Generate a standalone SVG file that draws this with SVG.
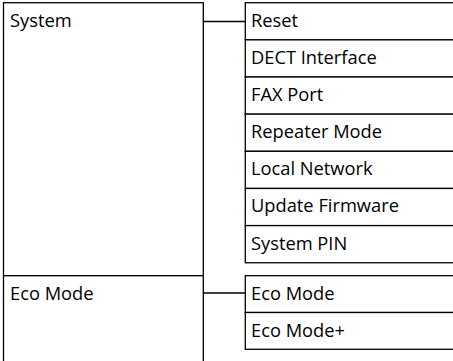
<svg xmlns="http://www.w3.org/2000/svg" width="453" height="361" viewBox="0 0 453 361">
<style>
.b{fill:#fff;stroke:#000;stroke-width:1.3}
.c{fill:none;stroke:#000;stroke-width:1.3}
text{font-family:"Open Sans","Noto Sans",sans-serif;font-size:18.3px;fill:#000}
</style>
<rect width="453" height="361" fill="#fff"/>
<g id="system">
<rect class="b" x="3.5" y="2.7" width="199.8" height="273"/>
<text x="10" y="27.3">System</text>
</g>
<g id="ecomode-group">
<rect class="b" x="3.5" y="275.7" width="199.8" height="100"/>
<text x="10" y="300">Eco Mode</text>
</g>
<g id="reset"><rect class="b" x="245.3" y="2.7" width="220" height="37.15"/><text x="251" y="26.7">Reset</text></g>
<g id="dect"><rect class="b" x="245.3" y="39.85" width="220" height="37.15"/><text x="251" y="63.85">DECT Interface</text></g>
<g id="fax"><rect class="b" x="245.3" y="77" width="220" height="37.15"/><text x="251" y="101">FAX Port</text></g>
<g id="repeater"><rect class="b" x="245.3" y="114.15" width="220" height="37.15"/><text x="251" y="138.15">Repeater Mode</text></g>
<g id="local"><rect class="b" x="245.3" y="151.3" width="220" height="37.15"/><text x="251" y="175.3">Local Network</text></g>
<g id="update"><rect class="b" x="245.3" y="188.45" width="220" height="37.15"/><text x="251" y="212.45">Update Firmware</text></g>
<g id="pin"><rect class="b" x="245.3" y="225.6" width="220" height="37.15"/><text x="251" y="249.6">System PIN</text></g>
<g id="eco"><rect class="b" x="245.3" y="275.7" width="220" height="36.8"/><text x="251" y="299.7">Eco Mode</text></g>
<g id="ecoplus"><rect class="b" x="245.3" y="312.5" width="220" height="36.8"/><text x="251" y="336.5">Eco Mode+</text></g>
<g id="connectors">
<line class="c" x1="203.3" y1="21.5" x2="245.3" y2="21.5"/>
<line class="c" x1="203.3" y1="293" x2="245.3" y2="293"/>
</g>
</svg>
